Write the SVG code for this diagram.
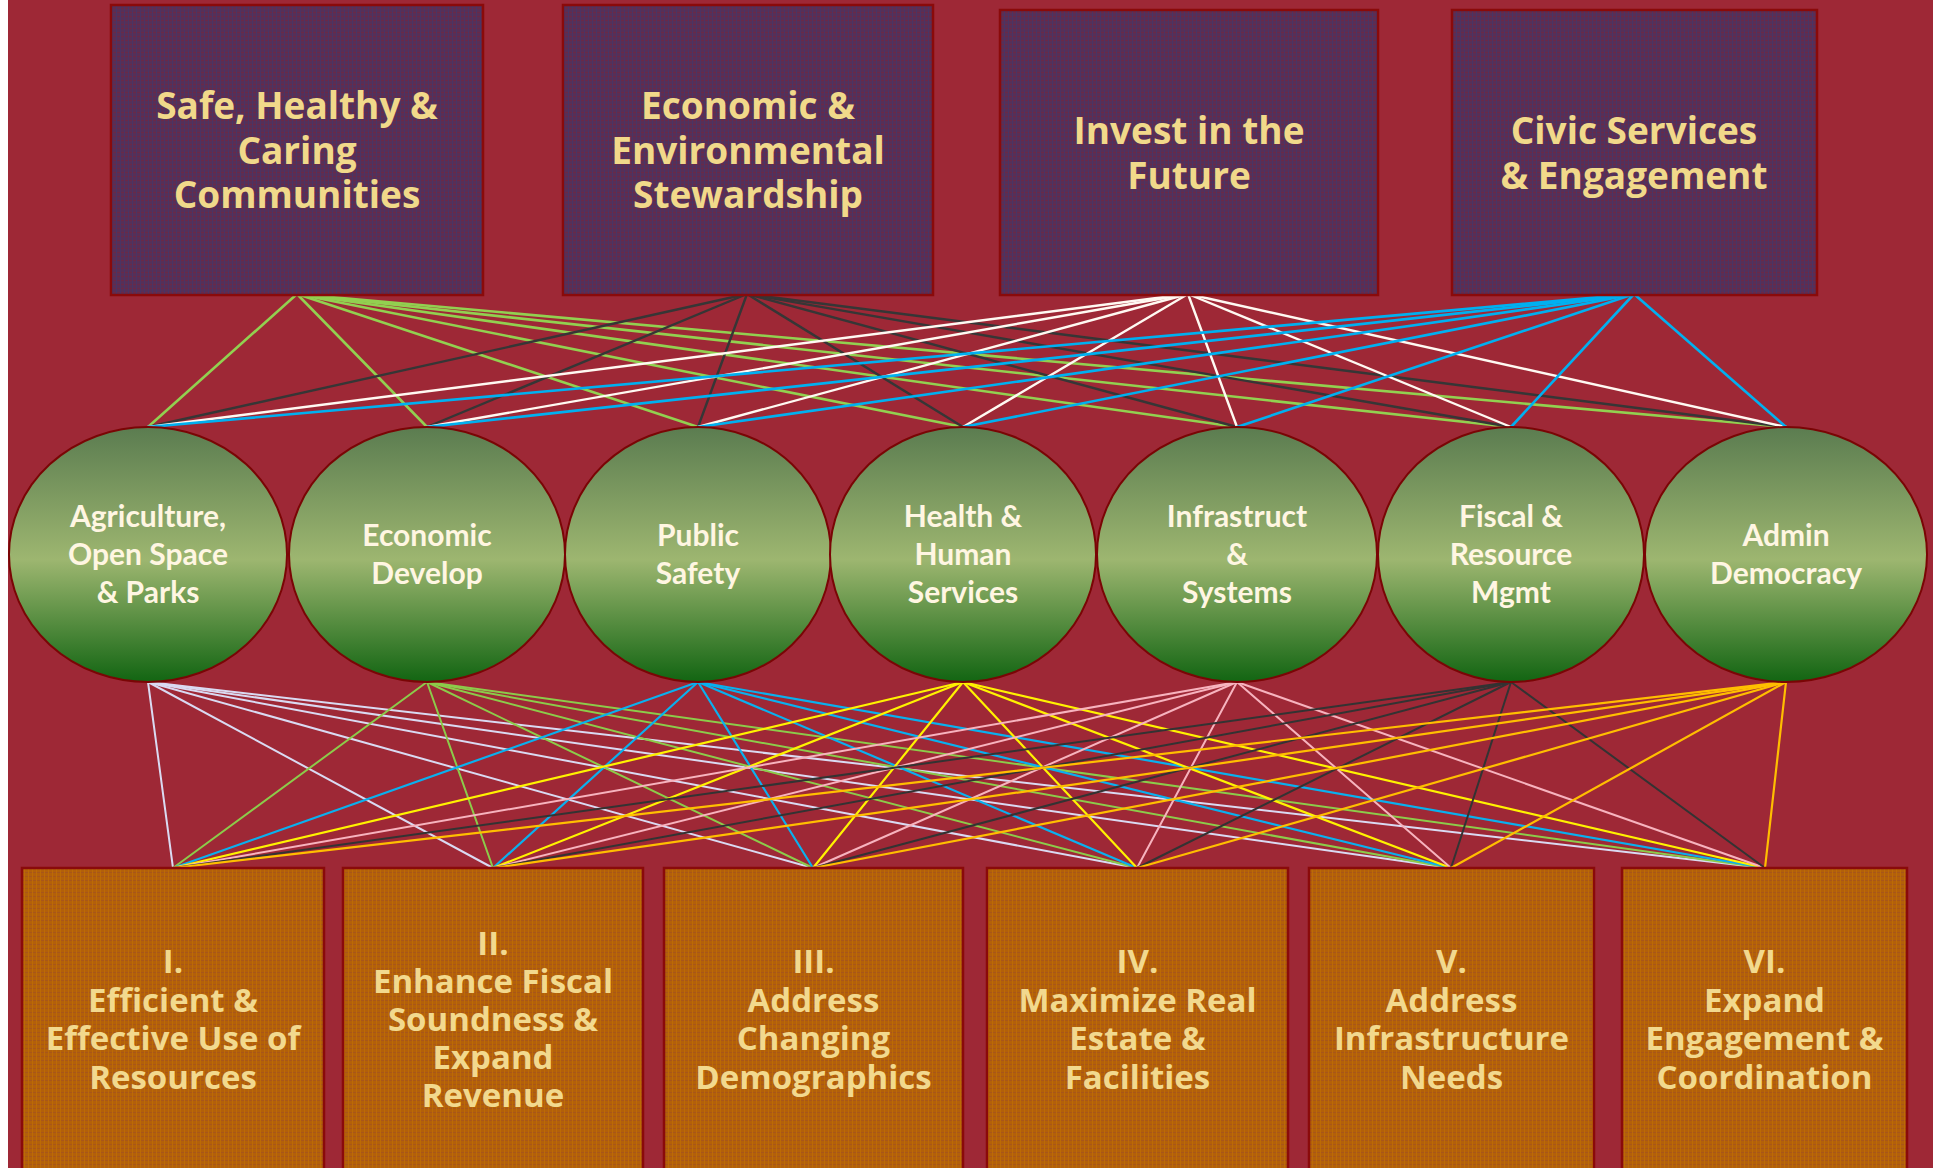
<svg xmlns="http://www.w3.org/2000/svg" width="1933" height="1168" viewBox="0 0 1933 1168">
  <defs>
    <pattern id="purpleWeave" width="4" height="4" patternUnits="userSpaceOnUse">
      <rect width="4" height="4" fill="#582F56"/>
      <rect width="4" height="1" fill="#6A2947"/>
      <rect width="1" height="4" fill="#4A3464"/>
    </pattern>
    <pattern id="amberWeave" width="4" height="4" patternUnits="userSpaceOnUse">
      <rect width="4" height="4" fill="#B3600A"/>
      <rect width="4" height="1" fill="#A8561A"/>
      <rect width="1" height="4" fill="#BC6A06"/>
    </pattern>
    <linearGradient id="leafGrad" x1="0" y1="0" x2="0" y2="1">
      <stop offset="0" stop-color="#5B7C50"/>
      <stop offset="0.52" stop-color="#9DB670"/>
      <stop offset="1" stop-color="#126512"/>
    </linearGradient>
    <style>
      .goal rect { fill: url(#purpleWeave); stroke: #8A0A0A; stroke-width: 2.5; }
      .goal text { font-family: "Open Sans", "DejaVu Sans", sans-serif; font-weight: 700; font-size: 37px; fill: #F1D98A; text-anchor: middle; }
      .dept ellipse { fill: url(#leafGrad); stroke: #7A0505; stroke-width: 2; }
      .dept text { font-family: Lato, "Open Sans", sans-serif; font-weight: 700; font-size: 30px; fill: #FFF6E2; text-anchor: middle; }
      .prio rect { fill: url(#amberWeave); stroke: #8A0A0A; stroke-width: 2.5; }
      .prio text { font-family: "Open Sans", "DejaVu Sans", sans-serif; font-weight: 700; font-size: 33px; fill: #F2D98E; text-anchor: middle; }
      #connectors line { fill: none; stroke-linecap: round; }
      .c-green { stroke: #92D050; stroke-width: 2.6; }
      .c-gray { stroke: #363636; stroke-width: 2.4; }
      .c-white { stroke: #FFF9F2; stroke-width: 2.4; }
      .c-blue { stroke: #00B0F0; stroke-width: 2.6; }
      .c-lav { stroke: #DADAF2; stroke-width: 2; }
      .c-lime { stroke: #8CCB4A; stroke-width: 2; }
      .c-sky { stroke: #0AB0EE; stroke-width: 2.2; }
      .c-yellow { stroke: #FFF200; stroke-width: 2.2; }
      .c-pink { stroke: #F7B3BE; stroke-width: 2; }
      .c-dark { stroke: #333333; stroke-width: 2; }
      .c-amber { stroke: #FFBE00; stroke-width: 2.2; }
    </style>
  </defs>

  <!-- page -->
  <rect x="0" y="0" width="1933" height="1168" fill="#FFFFFF"/>
  <rect x="8" y="0" width="1925" height="1168" fill="#9E2836"/>

  <g id="connectors">
    <!-- goals to departments -->
    <g class="c-green">
      <line x1="297" y1="294" x2="148" y2="427"/>
      <line x1="297" y1="294" x2="427" y2="427"/>
      <line x1="297" y1="294" x2="698" y2="427"/>
      <line x1="297" y1="294" x2="963" y2="427"/>
      <line x1="297" y1="294" x2="1237" y2="427"/>
      <line x1="297" y1="294" x2="1511" y2="427"/>
      <line x1="297" y1="294" x2="1786" y2="427"/>
    </g>
    <g class="c-gray">
      <line x1="747" y1="294" x2="148" y2="427"/>
      <line x1="747" y1="294" x2="427" y2="427"/>
      <line x1="747" y1="294" x2="698" y2="427"/>
      <line x1="747" y1="294" x2="963" y2="427"/>
      <line x1="747" y1="294" x2="1237" y2="427"/>
      <line x1="747" y1="294" x2="1511" y2="427"/>
      <line x1="747" y1="294" x2="1786" y2="427"/>
    </g>
    <g class="c-white">
      <line x1="1188" y1="294" x2="148" y2="427"/>
      <line x1="1188" y1="294" x2="427" y2="427"/>
      <line x1="1188" y1="294" x2="698" y2="427"/>
      <line x1="1188" y1="294" x2="963" y2="427"/>
      <line x1="1188" y1="294" x2="1237" y2="427"/>
      <line x1="1188" y1="294" x2="1511" y2="427"/>
      <line x1="1188" y1="294" x2="1786" y2="427"/>
    </g>
    <g class="c-blue">
      <line x1="1634" y1="294" x2="148" y2="427"/>
      <line x1="1634" y1="294" x2="427" y2="427"/>
      <line x1="1634" y1="294" x2="698" y2="427"/>
      <line x1="1634" y1="294" x2="963" y2="427"/>
      <line x1="1634" y1="294" x2="1237" y2="427"/>
      <line x1="1634" y1="294" x2="1511" y2="427"/>
      <line x1="1634" y1="294" x2="1786" y2="427"/>
    </g>

    <!-- departments to priorities -->
    <g class="c-lav">
      <line x1="148" y1="682" x2="173" y2="868"/>
      <line x1="148" y1="682" x2="493" y2="868"/>
      <line x1="148" y1="682" x2="813" y2="868"/>
      <line x1="148" y1="682" x2="1137" y2="868"/>
      <line x1="148" y1="682" x2="1451" y2="868"/>
      <line x1="148" y1="682" x2="1765" y2="868"/>
    </g>
    <g class="c-lime">
      <line x1="427" y1="682" x2="173" y2="868"/>
      <line x1="427" y1="682" x2="493" y2="868"/>
      <line x1="427" y1="682" x2="813" y2="868"/>
      <line x1="427" y1="682" x2="1137" y2="868"/>
      <line x1="427" y1="682" x2="1451" y2="868"/>
      <line x1="427" y1="682" x2="1765" y2="868"/>
    </g>
    <g class="c-sky">
      <line x1="698" y1="682" x2="173" y2="868"/>
      <line x1="698" y1="682" x2="493" y2="868"/>
      <line x1="698" y1="682" x2="813" y2="868"/>
      <line x1="698" y1="682" x2="1137" y2="868"/>
      <line x1="698" y1="682" x2="1451" y2="868"/>
      <line x1="698" y1="682" x2="1765" y2="868"/>
    </g>
    <g class="c-yellow">
      <line x1="963" y1="682" x2="173" y2="868"/>
      <line x1="963" y1="682" x2="493" y2="868"/>
      <line x1="963" y1="682" x2="813" y2="868"/>
      <line x1="963" y1="682" x2="1137" y2="868"/>
      <line x1="963" y1="682" x2="1451" y2="868"/>
      <line x1="963" y1="682" x2="1765" y2="868"/>
    </g>
    <g class="c-pink">
      <line x1="1237" y1="682" x2="173" y2="868"/>
      <line x1="1237" y1="682" x2="493" y2="868"/>
      <line x1="1237" y1="682" x2="813" y2="868"/>
      <line x1="1237" y1="682" x2="1137" y2="868"/>
      <line x1="1237" y1="682" x2="1451" y2="868"/>
      <line x1="1237" y1="682" x2="1765" y2="868"/>
    </g>
    <g class="c-dark">
      <line x1="1511" y1="682" x2="173" y2="868"/>
      <line x1="1511" y1="682" x2="493" y2="868"/>
      <line x1="1511" y1="682" x2="813" y2="868"/>
      <line x1="1511" y1="682" x2="1137" y2="868"/>
      <line x1="1511" y1="682" x2="1451" y2="868"/>
      <line x1="1511" y1="682" x2="1765" y2="868"/>
    </g>
    <g class="c-amber">
      <line x1="1786" y1="682" x2="173" y2="868"/>
      <line x1="1786" y1="682" x2="493" y2="868"/>
      <line x1="1786" y1="682" x2="813" y2="868"/>
      <line x1="1786" y1="682" x2="1137" y2="868"/>
      <line x1="1786" y1="682" x2="1451" y2="868"/>
      <line x1="1786" y1="682" x2="1765" y2="868"/>
    </g>
  </g>

  <!-- goals -->
  <g id="goal-safe" class="goal">
    <rect x="111" y="5" width="372" height="290"/>
    <text x="297" y="119">Safe, Healthy &amp;<tspan x="297" dy="44.5">Caring</tspan><tspan x="297" dy="44.5">Communities</tspan></text>
  </g>
  <g id="goal-economic" class="goal">
    <rect x="563" y="5" width="370" height="290"/>
    <text x="748" y="119">Economic &amp;<tspan x="748" dy="44.5">Environmental</tspan><tspan x="748" dy="44.5">Stewardship</tspan></text>
  </g>
  <g id="goal-invest" class="goal">
    <rect x="1000" y="10" width="378" height="285"/>
    <text x="1189" y="144">Invest in the<tspan x="1189" dy="45">Future</tspan></text>
  </g>
  <g id="goal-civic" class="goal">
    <rect x="1452" y="10" width="365" height="285"/>
    <text x="1634" y="144">Civic Services<tspan x="1634" dy="45">&amp; Engagement</tspan></text>
  </g>

  <!-- departments -->
  <g id="dept-agriculture" class="dept">
    <ellipse cx="148" cy="554.5" rx="139" ry="127.5"/>
    <text x="148" y="527">Agriculture,<tspan x="148" dy="38">Open Space</tspan><tspan x="148" dy="38">&amp; Parks</tspan></text>
  </g>
  <g id="dept-economic" class="dept">
    <ellipse cx="427" cy="554.5" rx="138" ry="127.5"/>
    <text x="427" y="546">Economic<tspan x="427" dy="38">Develop</tspan></text>
  </g>
  <g id="dept-safety" class="dept">
    <ellipse cx="698" cy="554.5" rx="133" ry="127.5"/>
    <text x="698" y="546">Public<tspan x="698" dy="38">Safety</tspan></text>
  </g>
  <g id="dept-health" class="dept">
    <ellipse cx="963" cy="554.5" rx="133" ry="127.5"/>
    <text x="963" y="527">Health &amp;<tspan x="963" dy="38">Human</tspan><tspan x="963" dy="38">Services</tspan></text>
  </g>
  <g id="dept-infrastructure" class="dept">
    <ellipse cx="1237" cy="554.5" rx="140" ry="127.5"/>
    <text x="1237" y="527">Infrastruct<tspan x="1237" dy="38">&amp;</tspan><tspan x="1237" dy="38">Systems</tspan></text>
  </g>
  <g id="dept-fiscal" class="dept">
    <ellipse cx="1511" cy="554.5" rx="133" ry="127.5"/>
    <text x="1511" y="527">Fiscal &amp;<tspan x="1511" dy="38">Resource</tspan><tspan x="1511" dy="38">Mgmt</tspan></text>
  </g>
  <g id="dept-admin" class="dept">
    <ellipse cx="1786" cy="554.5" rx="141" ry="127.5"/>
    <text x="1786" y="546">Admin<tspan x="1786" dy="38">Democracy</tspan></text>
  </g>

  <!-- priorities -->
  <g id="prio-1" class="prio">
    <rect x="22" y="868" width="302" height="310"/>
    <text x="173" y="973">I.<tspan x="173" dy="38.5">Efficient &amp;</tspan><tspan x="173" dy="38.5">Effective Use of</tspan><tspan x="173" dy="38.5">Resources</tspan></text>
  </g>
  <g id="prio-2" class="prio">
    <rect x="343" y="868" width="300" height="310"/>
    <text x="493" y="955">II.<tspan x="493" dy="38">Enhance Fiscal</tspan><tspan x="493" dy="38">Soundness &amp;</tspan><tspan x="493" dy="38">Expand</tspan><tspan x="493" dy="38">Revenue</tspan></text>
  </g>
  <g id="prio-3" class="prio">
    <rect x="664" y="868" width="299" height="310"/>
    <text x="813.5" y="973">III.<tspan x="813.5" dy="38.5">Address</tspan><tspan x="813.5" dy="38.5">Changing</tspan><tspan x="813.5" dy="38.5">Demographics</tspan></text>
  </g>
  <g id="prio-4" class="prio">
    <rect x="987" y="868" width="301" height="310"/>
    <text x="1137.5" y="973">IV.<tspan x="1137.5" dy="38.5">Maximize Real</tspan><tspan x="1137.5" dy="38.5">Estate &amp;</tspan><tspan x="1137.5" dy="38.5">Facilities</tspan></text>
  </g>
  <g id="prio-5" class="prio">
    <rect x="1309" y="868" width="285" height="310"/>
    <text x="1451.5" y="973">V.<tspan x="1451.5" dy="38.5">Address</tspan><tspan x="1451.5" dy="38.5">Infrastructure</tspan><tspan x="1451.5" dy="38.5">Needs</tspan></text>
  </g>
  <g id="prio-6" class="prio">
    <rect x="1622" y="868" width="285" height="310"/>
    <text x="1764.5" y="973">VI.<tspan x="1764.5" dy="38.5">Expand</tspan><tspan x="1764.5" dy="38.5">Engagement &amp;</tspan><tspan x="1764.5" dy="38.5">Coordination</tspan></text>
  </g>
</svg>
